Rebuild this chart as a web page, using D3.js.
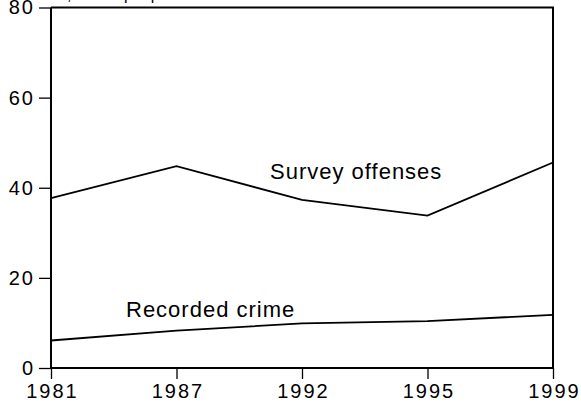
<!DOCTYPE html>
<html>
<head>
<meta charset="utf-8">
<script src="https://cdn.jsdelivr.net/npm/d3@7"></script>
<style>
  html, body { margin: 0; padding: 0; background: #fff; }
  svg { display: block; }
  text { font-family: "Liberation Sans", Arial, Helvetica, sans-serif; fill: #000; }
</style>
</head>
<body>
<svg id="chart" width="581" height="414"></svg>
<script>
const years = ["1981", "1987", "1992", "1995", "1999"];
const surveyOffenses = [37.7, 44.8, 37.3, 33.8, 45.6];
const recordedCrime = [6.1, 8.3, 9.9, 10.4, 11.8];
const yTicks = [0, 20, 40, 60, 80];
const seriesLabels = ["Survey offenses", "Recorded crime"];
const titleText = "Rate, in 100 people";

const W = 581, H = 414;
const margin = { top: 7.5, right: 28, bottom: 46, left: 51 };

const svg = d3.select("#chart");

const x = d3.scalePoint().domain(years).range([margin.left, W - margin.right]);
const y = d3.scaleLinear().domain([0, 80]).range([H - margin.bottom, margin.top]);

// clipped title at the very top (only descenders visible, as in the reference)
svg.append("text")
  .attr("x", 172).attr("y", 0)
  .attr("text-anchor", "end")
  .style("font-size", "16px")
  .text(titleText);

// frame (top and right)
svg.append("path")
  .attr("d", `M${margin.left},${y(80)}H${W - margin.right}V${y(0)}`)
  .attr("fill", "none").attr("stroke", "#000").attr("stroke-width", 2);

// y axis
const yAxis = svg.append("g")
  .attr("transform", `translate(${margin.left},0)`)
  .call(d3.axisLeft(y).tickValues(yTicks).tickSize(12).tickPadding(4).tickFormat(d3.format("d")));
// x axis
const xAxis = svg.append("g")
  .attr("transform", `translate(0,${y(0)})`)
  .call(d3.axisBottom(x).tickSize(11).tickPadding(5));

[yAxis, xAxis].forEach(g => {
  g.select(".domain").attr("stroke-width", 2).attr("stroke", "#000");
  g.selectAll(".tick line").attr("stroke", "#000").attr("stroke-width", 1.3);
  g.selectAll(".tick text")
    .style("font-size", "20px")
    .style("letter-spacing", "2px")
    .attr("fill", "#000")
    .style("font-family", '"Liberation Sans", Arial, sans-serif');
});
xAxis.selectAll(".tick text").attr("dx", 1);
yAxis.select(".domain").attr("d", `M0,${y(80)}V${y(0)}`);
xAxis.select(".domain").attr("d", `M${margin.left},0H${W - margin.right}`);

const line = d3.line().x((d, i) => x(years[i])).y(d => y(d));

[surveyOffenses, recordedCrime].forEach(s => {
  svg.append("path")
    .datum(s)
    .attr("d", line)
    .attr("fill", "none")
    .attr("stroke", "#000")
    .attr("stroke-width", 1.8)
    .attr("stroke-linejoin", "miter");
});

svg.append("text").attr("x", 270).attr("y", 179)
  .style("font-size", "22px").style("letter-spacing", "1px").text(seriesLabels[0]);
svg.append("text").attr("x", 126).attr("y", 317)
  .style("font-size", "22px").style("letter-spacing", "1px").text(seriesLabels[1]);
</script>
</body>
</html>
